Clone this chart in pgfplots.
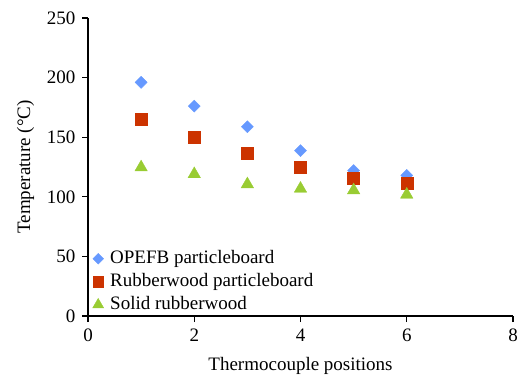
\documentclass[border=0pt]{standalone}
\usepackage{fontspec}
\setmainfont{Liberation Serif}
\usepackage{pgfplots}
\pgfplotsset{compat=1.18}
\definecolor{cblue}{RGB}{102,153,255}
\definecolor{cred}{RGB}{204,51,0}
\definecolor{cgreen}{RGB}{153,204,51}
\pgfplotsset{myleg/.style={legend image code/.code={\path[draw=none,fill=none] (0bp,-5bp) rectangle (19bp,5bp); \draw[##1, mark size=#1] plot coordinates {(9bp,0bp)};}}}
\begin{document}
\fontsize{19bp}{22bp}\selectfont
\begin{tikzpicture}
\begin{axis}[
  name=ax,
  scale only axis,
  width=425bp, height=298bp,
  xmin=0, xmax=8, ymin=0, ymax=250,
  xtick={0,2,4,6,8}, ytick={0,50,100,150,200,250},
  axis x line=bottom, axis y line=left,
  axis line style={-, line width=1.2bp},
  tick align=outside,
  major tick length=6bp,
  tick style={line width=1.2bp, black},
  /pgf/number format/assume math mode=true,
  ticklabel style={font=\fontsize{19bp}{22bp}\selectfont},
  label style={font=\fontsize{19bp}{22bp}\selectfont},
  xlabel style={yshift=-3bp},
  xlabel={Thermocouple positions},
  ylabel={Temperature (°C)},
  legend style={draw=none, fill=none, at={(axis description cs:0.0,0.0)}, anchor=south west,
    font=\fontsize{19bp}{22bp}\selectfont, row sep=3bp, inner sep=1bp},
  legend cell align=left,
]
\addplot[only marks, mark=square*, mark size=4.24bp, mark options={rotate=45, draw=cblue, fill=cblue}, myleg=3.8bp] coordinates {
(1,196) (2,176) (3,158.8) (4,138.7) (5,122) (6,118)};
\addlegendentry{OPEFB particleboard}
\addplot[only marks, mark=square*, mark size=6bp, mark options={draw=cred, fill=cred}, myleg=5.2bp] coordinates {
(1,164.7) (2,150) (3,136.5) (4,125) (5,116) (6,111)};
\addlegendentry{Rubberwood particleboard}
\addplot[only marks, mark=triangle*, mark size=7.2bp, mark options={draw=cgreen, fill=cgreen}, myleg=6.4bp] coordinates {
(1,124.7) (2,119) (3,110.5) (4,106.8) (5,105.5) (6,101.8)};
\addlegendentry{Solid rubberwood}
\end{axis}
\pgfresetboundingbox
\path ([shift={(-88bp,-59bp)}]ax.south west) rectangle ([shift={(5bp,18bp)}]ax.north east);
\end{tikzpicture}
\end{document}
